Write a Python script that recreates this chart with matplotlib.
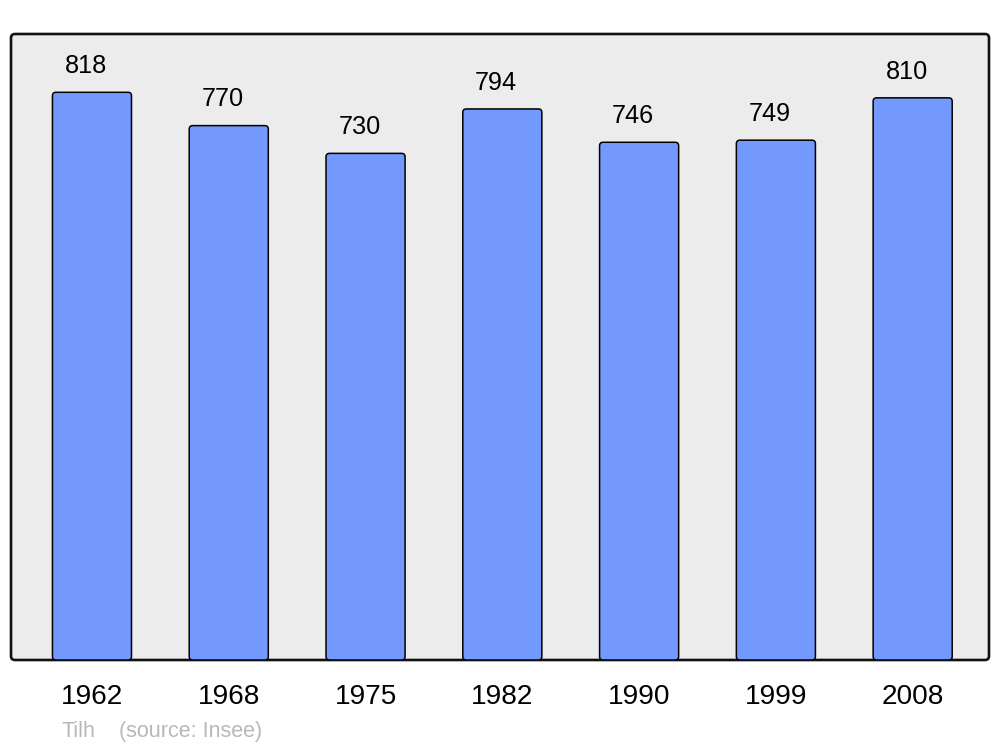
import matplotlib
matplotlib.use("Agg")
import matplotlib.pyplot as plt
from matplotlib.patches import FancyBboxPatch

years = ["1962", "1968", "1975", "1982", "1990", "1999", "2008"]
population = [818, 770, 730, 794, 746, 749, 810]
footer_author = "Tilh"
footer_source = "(source: Insee)"

plt.rcParams['font.family'] = ['Liberation Sans', 'DejaVu Sans']

W, H = 1000, 747
fig = plt.figure(figsize=(W / 100, H / 100), dpi=100)
ax = fig.add_axes([11 / W, (H - 660) / H, 978 / W, 626 / H])
ax.set_facecolor('none')

xmin, xmax = -0.592, 6.558
ymin, ymax = 0, 902
ax.set_xlim(xmin, xmax)
ax.set_ylim(ymin, ymax)

# rounded frame
frame = FancyBboxPatch((0, 0), 1, 1, transform=ax.transAxes,
                       boxstyle=f"round,pad=0,rounding_size={4 / 978}",
                       mutation_aspect=978 / 626,
                       facecolor='#ececec', edgecolor='#111111', linewidth=1.9,
                       zorder=0, clip_on=False)
ax.add_patch(frame)

bar_w = 0.578
px_x = (xmax - xmin) / 978.0
px_y = (ymax - ymin) / 626.0
r_px = 3.5
for i, v in enumerate(population):
    p = FancyBboxPatch((i - bar_w / 2, 0), bar_w, v,
                       boxstyle=f"round,pad=0,rounding_size={r_px * px_x}",
                       mutation_aspect=px_y / px_x,
                       facecolor='#7399ff', edgecolor='black', linewidth=1.1,
                       zorder=2, clip_on=True)
    ax.add_patch(p)
    ax.annotate(str(v), xy=(i - 0.045, v), xytext=(0, 13.8), textcoords='offset points',
                ha='center', va='baseline', fontsize=18.2, color='black')

ax.set_xticks(range(len(years)))
ax.set_xticklabels(years, fontsize=20.2)
for lbl in ax.get_xticklabels():
    lbl.set_x(lbl.get_position()[0])
ax.tick_params(axis='x', length=0, pad=17.5)
ax.set_yticks([])
for s in ax.spines.values():
    s.set_visible(False)

fig.text(61 / W, 1 - 737 / H, footer_author, fontsize=15.5, color='#b8b8b8', va='baseline', ha='left')
fig.text(119 / W, 1 - 737 / H, footer_source, fontsize=15.5, color='#b8b8b8', va='baseline', ha='left')

fig.savefig('out.png', dpi=100)
